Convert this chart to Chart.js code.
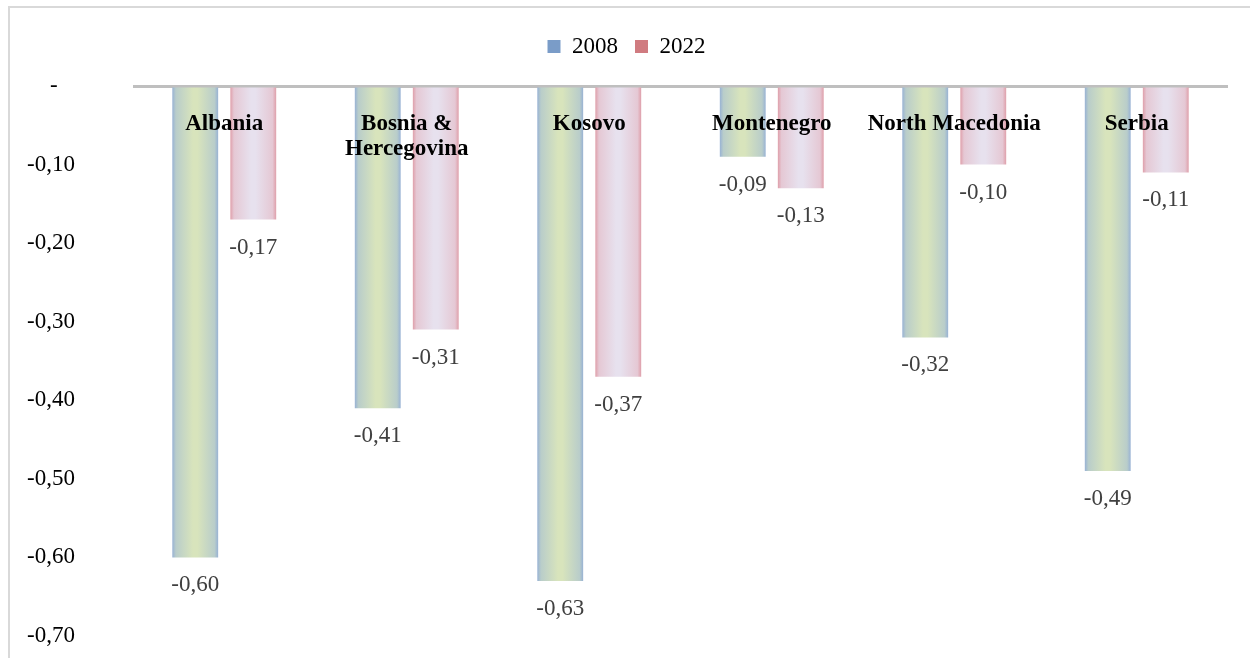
<!DOCTYPE html>
<html>
<head>
<meta charset="utf-8">
<script src="https://cdn.jsdelivr.net/npm/chart.js@4.4.1/dist/chart.umd.min.js"></script>
<style>
  html, body { margin: 0; padding: 0; background: #ffffff; }
  #wrap { width: 1250px; height: 658px; }
</style>
</head>
<body>
<div id="wrap"><canvas id="c" width="1250" height="658"></canvas></div>
<script>
const categories = ['Albania', ['Bosnia &', 'Hercegovina'], 'Kosovo', 'Montenegro', 'North Macedonia', 'Serbia'];
const seriesNames = ['2008', '2022'];
const values2008 = [-0.60, -0.41, -0.63, -0.09, -0.32, -0.49];
const values2022 = [-0.17, -0.31, -0.37, -0.13, -0.10, -0.11];
const yTicks = [-0.70, -0.60, -0.50, -0.40, -0.30, -0.20, -0.10, 0];

const FONT = "'Liberation Serif', 'Times New Roman', serif";
const CAT_PCT = 0.636;
const BAR_PCT = 0.79;

function fmt(v) {
  if (Math.abs(v) < 1e-9) return '-   ';
  return v.toFixed(2).replace('.', ',');
}

function barGradient(colors) {
  return function (ctx) {
    const chart = ctx.chart;
    const xs = chart.scales.x;
    if (!xs || !chart.chartArea || ctx.dataIndex === undefined) return colors[2];
    const n = categories.length;
    const catW = xs.width / n;
    const slot = catW * CAT_PCT / 2;
    const center = xs.getPixelForValue(ctx.dataIndex) + (ctx.datasetIndex - 0.5) * slot;
    const w = slot * BAR_PCT;
    const g = chart.ctx.createLinearGradient(center - w / 2, 0, center + w / 2, 0);
    g.addColorStop(0, colors[0]);
    g.addColorStop(0.08, colors[1]);
    g.addColorStop(0.45, colors[2]);
    g.addColorStop(0.55, colors[2]);
    g.addColorStop(0.92, colors[1]);
    g.addColorStop(1, colors[0]);
    return g;
  };
}

const decorPlugin = {
  id: 'decor',
  beforeDraw(chart) {
    const c = chart.ctx;
    c.save();
    c.fillStyle = '#ffffff';
    c.fillRect(0, 0, chart.width, chart.height);
    c.strokeStyle = '#d9d9d9';
    c.lineWidth = 2;
    c.beginPath();
    c.moveTo(9, chart.height);
    c.lineTo(9, 7);
    c.lineTo(chart.width, 7);
    c.stroke();
    c.restore();
  },
  afterDatasetsDraw(chart) {
    const c = chart.ctx;
    const xs = chart.scales.x;
    const top = chart.chartArea.top;
    c.save();
    c.font = "bold 23px " + FONT;
    c.fillStyle = '#000000';
    c.textAlign = 'center';
    c.textBaseline = 'alphabetic';
    categories.forEach((lab, i) => {
      const x = xs.getPixelForValue(i);
      const lines = Array.isArray(lab) ? lab : [lab];
      lines.forEach((ln, k) => c.fillText(ln, x, top + 44 + k * 25));
    });
    c.font = "23px " + FONT;
    c.fillStyle = '#404040';
    chart.data.datasets.forEach((ds, di) => {
      const meta = chart.getDatasetMeta(di);
      meta.data.forEach((el, i) => {
        c.fillText(fmt(ds.data[i]), el.x, el.y + 34);
      });
    });
    c.restore();
  }
};

new Chart(document.getElementById('c'), {
  type: 'bar',
  data: {
    labels: categories,
    datasets: [
      {
        label: seriesNames[0],
        data: values2008,
        backgroundColor: barGradient(['#98b2d4', '#b9cdca', '#d8e4bc']),
        borderWidth: 0,
        categoryPercentage: CAT_PCT,
        barPercentage: BAR_PCT
      },
      {
        label: seriesNames[1],
        data: values2022,
        backgroundColor: barGradient(['#df9faa', '#e5c8d4', '#e7e1ee']),
        borderWidth: 0,
        categoryPercentage: CAT_PCT,
        barPercentage: BAR_PCT
      }
    ]
  },
  options: {
    responsive: false,
    maintainAspectRatio: false,
    animation: false,
    devicePixelRatio: 1,
    layout: { padding: { left: 25, right: 22, top: 18, bottom: 22 } },
    plugins: {
      legend: {
        display: true,
        position: 'top',
        labels: {
          font: { family: FONT, size: 23 },
          color: '#000000',
          boxWidth: 13,
          boxHeight: 13,
          padding: 17,
          generateLabels(chart) {
            const cols = ['#7a9cc8', '#d07b80'];
            return chart.data.datasets.map((ds, i) => ({
              text: ds.label,
              fillStyle: cols[i],
              strokeStyle: cols[i],
              lineWidth: 0,
              datasetIndex: i,
              hidden: false
            }));
          }
        }
      },
      tooltip: { enabled: false }
    },
    scales: {
      x: {
        display: true,
        position: 'top',
        afterFit(s) { s.height = 18; },
        ticks: { display: false },
        border: { display: false },
        grid: { display: false, drawTicks: false }
      },
      y: {
        min: -0.7,
        max: 0,
        weight: 1,
        afterFit(s) { s.width = 50; },
        afterBuildTicks(s) { s.ticks = yTicks.map(v => ({ value: v })); },
        border: { display: false },
        grid: {
          drawTicks: false,
          color: (ctx) => (ctx.tick && Math.abs(ctx.tick.value) < 1e-9) ? '#bfbfbf' : 'rgba(0,0,0,0)',
          lineWidth: (ctx) => (ctx.tick && Math.abs(ctx.tick.value) < 1e-9) ? 3 : 0
        },
        ticks: {
          padding: 0,
          color: '#000000',
          font: { family: FONT, size: 23 },
          callback: (v) => fmt(v)
        }
      },
      yGap: {
        type: 'linear',
        position: 'left',
        display: true,
        weight: 0,
        min: -0.7,
        max: 0,
        afterFit(s) { s.width = 58; },
        ticks: { display: false },
        border: { display: false },
        grid: { display: false, drawTicks: false }
      }
    }
  },
  plugins: [decorPlugin]
});
</script>
</body>
</html>
